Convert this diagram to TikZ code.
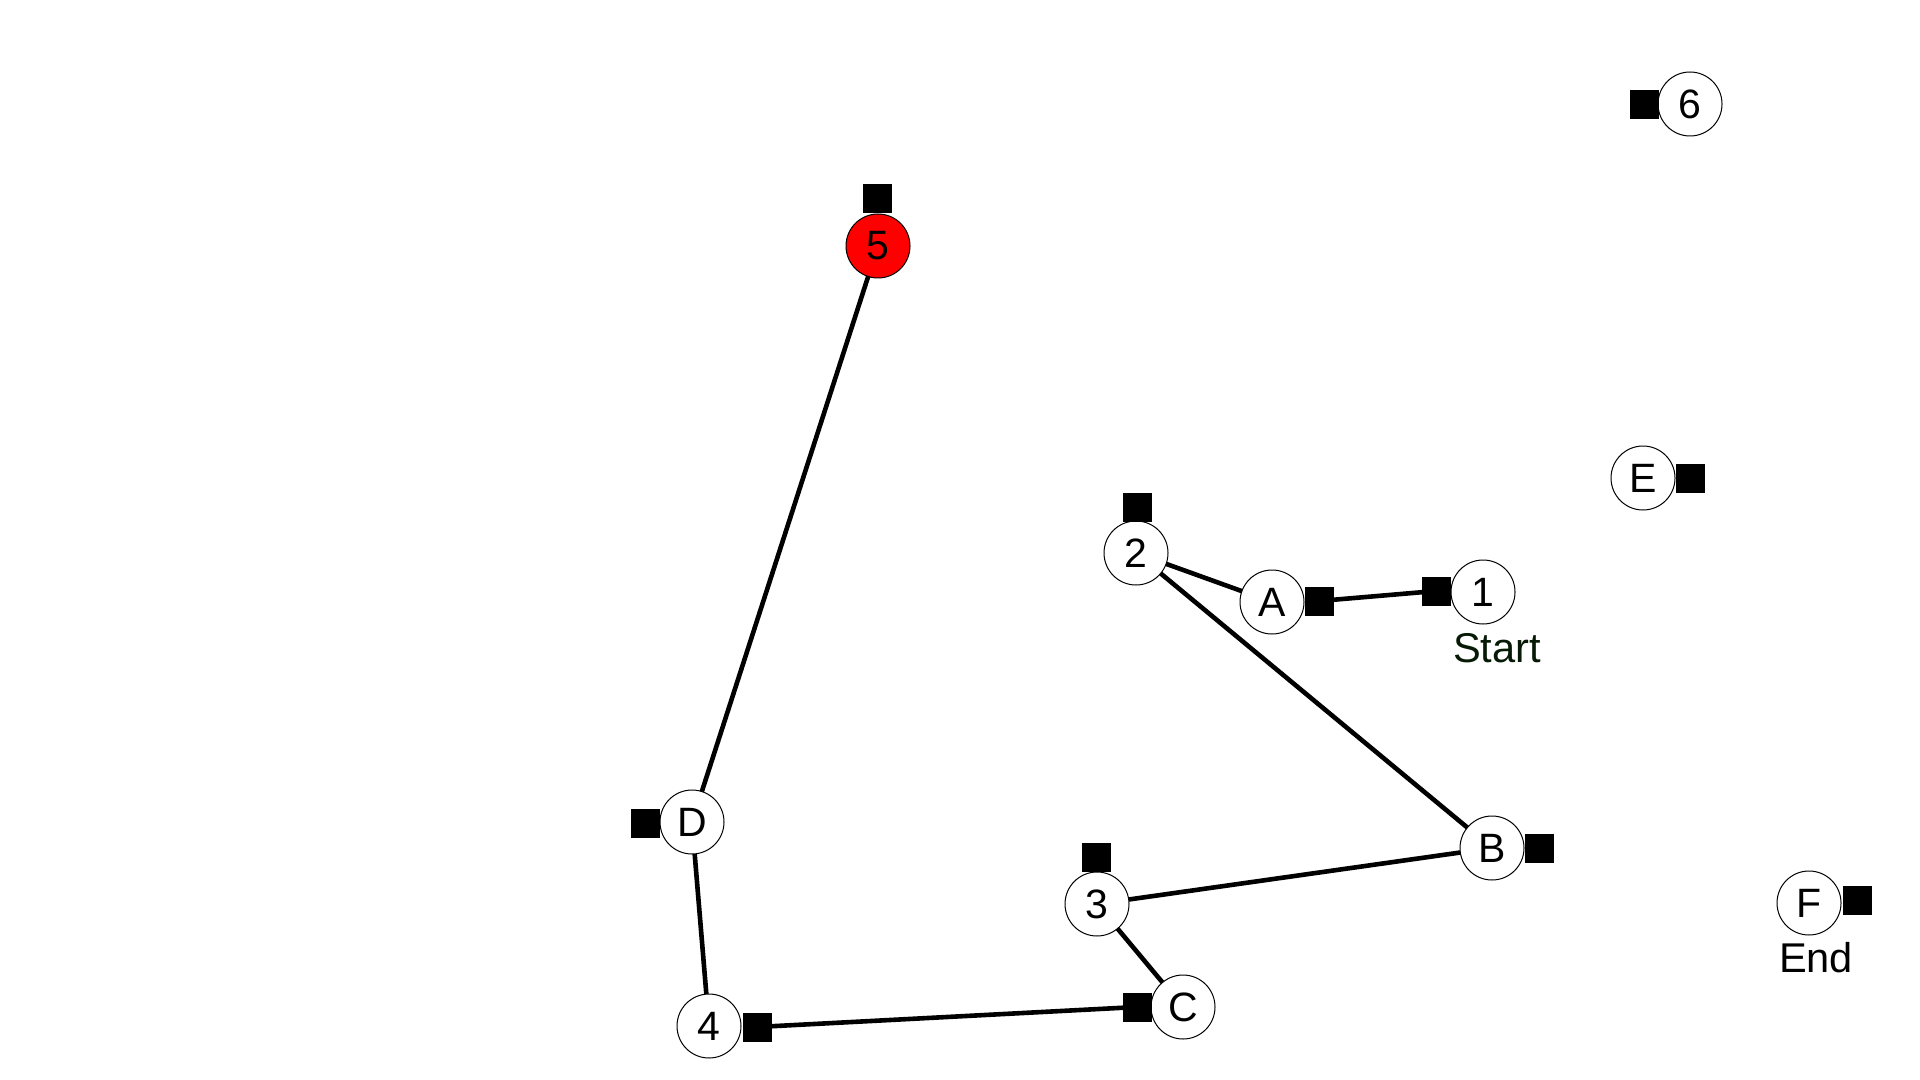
\documentclass[tikz,border=0pt]{standalone}
\usepackage{fontspec}
\setmainfont{Liberation Sans}
\definecolor{startgreen}{HTML}{061A06}
\begin{document}
\begin{tikzpicture}[x=0.5pt,y=-0.5pt,
  vert/.style={circle,draw=black,line width=0.5pt,fill=white,minimum size=32pt,inner sep=0pt,font=\fontsize{20.5}{24}\selectfont},
  redvert/.style={vert,fill=red},
  port/.style={rectangle,fill=black,minimum size=14.5pt,inner sep=0pt},
  edge/.style={line width=2.3pt,black},
  lbl/.style={anchor=base,inner sep=0pt,font=\fontsize{20.8}{24}\selectfont}]
\useasboundingbox (0,0) rectangle (1920,1080);
% coordinates
\coordinate (c1) at (1483,592);
\coordinate (c2) at (1136,553);
\coordinate (c3) at (1097,904);
\coordinate (c4) at (709,1026);
\coordinate (c5) at (878,246);
\coordinate (c6) at (1690,104);
\coordinate (cA) at (1272,602);
\coordinate (cB) at (1492,848);
\coordinate (cC) at (1183,1007);
\coordinate (cD) at (692,822);
\coordinate (cE) at (1643,478);
\coordinate (cF) at (1809,903);
% ports
\coordinate (p1) at (1436,591);
\coordinate (p2) at (1137,507);
\coordinate (p3) at (1096,857);
\coordinate (p4) at (757,1027);
\coordinate (p5) at (877,199);
\coordinate (p6) at (1644,105);
\coordinate (pA) at (1319,601);
\coordinate (pB) at (1539,848);
\coordinate (pC) at (1137,1007);
\coordinate (pD) at (645,823);
\coordinate (pE) at (1690,478);
\coordinate (pF) at (1857,900);
% edges
\draw[edge] (c5) -- (cD);
\draw[edge] (cD) -- (c4);
\draw[edge] (p4) -- (pC);
\draw[edge] (c3) -- (cC);
\draw[edge] (c3) -- (cB);
\draw[edge] (c2) -- (cB);
\draw[edge] (c2) -- (cA);
\draw[edge] (pA) -- (p1);
% vertices
\node[vert] (n1) at (c1) {1};
\node[vert] (n2) at (c2) {2};
\node[vert] (n3) at (c3) {3};
\node[vert] (n4) at (c4) {4};
\node[redvert] (n5) at (c5) {5};
\node[vert] (n6) at (c6) {6};
\node[vert] (nA) at (cA) {A};
\node[vert] (nB) at (cB) {B};
\node[vert] (nC) at (cC) {C};
\node[vert] (nD) at (cD) {D};
\node[vert] (nE) at (cE) {E};
\node[vert] (nF) at (cF) {F};
% port squares
\node[port] (q1) at (p1) {};
\node[port] (q2) at (p2) {};
\node[port] (q3) at (p3) {};
\node[port] (q4) at (p4) {};
\node[port] (q5) at (p5) {};
\node[port] (q6) at (p6) {};
\node[port] (qA) at (pA) {};
\node[port] (qB) at (pB) {};
\node[port] (qC) at (pC) {};
\node[port] (qD) at (pD) {};
\node[port] (qE) at (pE) {};
\node[port] (qF) at (pF) {};
% labels
\node[lbl,text=startgreen] (tstart) at (1497,662) {Start};
\node[lbl] (tend) at (1816,972) {End};
\end{tikzpicture}
\end{document}
